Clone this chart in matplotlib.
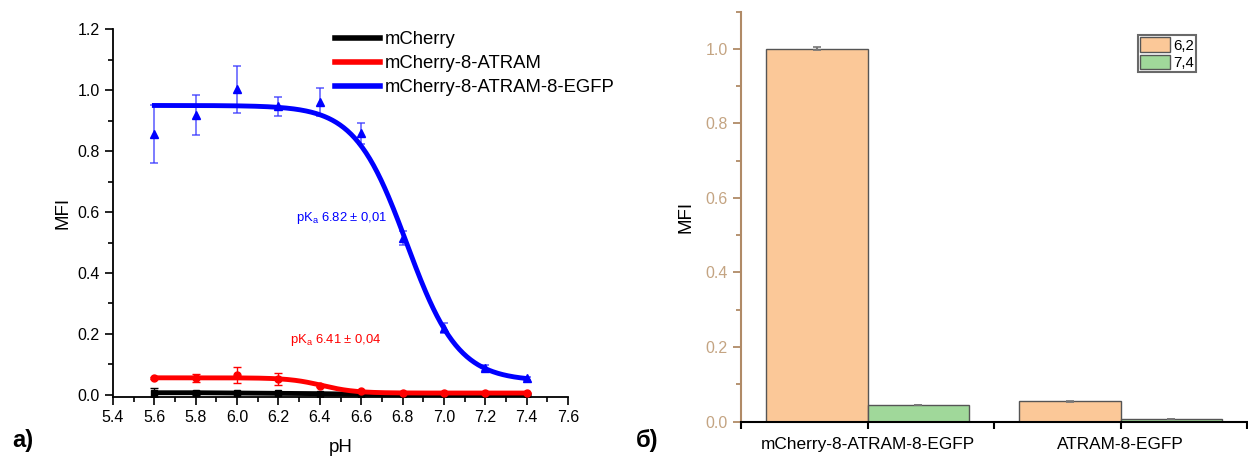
import numpy as np
import matplotlib
matplotlib.use("Agg")
import matplotlib.pyplot as plt
from matplotlib.ticker import MultipleLocator, FixedLocator

plt.rcParams['font.family'] = ['Liberation Sans', 'DejaVu Sans']
plt.rcParams['mathtext.fontset'] = 'custom'
plt.rcParams['mathtext.rm'] = 'Liberation Sans'
plt.rcParams['mathtext.it'] = 'Liberation Sans:italic'

# ---- panel a data ----
ph = [5.6, 5.8, 6.0, 6.2, 6.4, 6.6, 6.8, 7.0, 7.2, 7.4]
mcherry = [0.007, 0.007, 0.006, 0.005, 0.004, 0.002, 0.001, 0.001, 0.001, 0.001]
mcherry_err = [0.015, 0.006, 0.004, 0.002, 0.002, 0.001, 0.001, 0.001, 0.001, 0.001]
atram = [0.055, 0.055, 0.065, 0.052, 0.030, 0.012, 0.007, 0.005, 0.006, 0.006]
atram_err = [0.003, 0.014, 0.025, 0.020, 0.003, 0.002, 0.002, 0.001, 0.002, 0.001]
egfp = [0.857, 0.918, 1.003, 0.948, 0.961, 0.858, 0.515, 0.219, 0.088, 0.055]
egfp_err = [0.095, 0.065, 0.077, 0.031, 0.047, 0.033, 0.022, 0.016, 0.010, 0.005]

# Boltzmann fit parameters (top, bottom, pKa, slope)
egfp_fit = (0.95, 0.045, 6.82, 0.125)
atram_fit = (0.056, 0.006, 6.41, 0.08)

series_labels = ['mCherry', 'mCherry-8-ATRAM', 'mCherry-8-ATRAM-8-EGFP']

# ---- panel b data ----
constructs = ['mCherry-8-ATRAM-8-EGFP', 'ATRAM-8-EGFP']
ph_groups = ['6,2', '7,4']
mfi_62 = [1.0, 0.054]
mfi_62_err = [0.004, 0.002]
mfi_74 = [0.044, 0.007]
mfi_74_err = [0.001, 0.001]


def boltz(x, p):
    top, bot, x0, dx = p
    return bot + (top - bot) / (1 + np.exp((x - x0) / dx))


fig = plt.figure(figsize=(12.48, 4.58), dpi=100)

# ================= panel a =================
ax = fig.add_axes([113/1248, 1-397/458, (568-113)/1248, (397-29.3)/458])
xs = np.linspace(ph[0], ph[-1], 300)

# black
ax.errorbar(ph, mcherry, yerr=mcherry_err, fmt='s', color='black', ms=5,
            capsize=3, elinewidth=1, capthick=1, zorder=3)
ax.plot(ph, mcherry, color='black', lw=3.5, zorder=3, label=series_labels[0])
# red
ax.errorbar(ph, atram, yerr=atram_err, fmt='o', color='red', ms=5,
            capsize=3, elinewidth=1, capthick=1, zorder=4)
ax.plot(xs, boltz(xs, atram_fit), color='red', lw=3.5, zorder=4, label=series_labels[1])
# blue
ax.errorbar(ph, egfp, yerr=egfp_err, fmt='^', color='blue', ms=6,
            capsize=3, elinewidth=1.2, capthick=1.2, zorder=5, ecolor=(0.2, 0.2, 1.0, 0.75))
ax.plot(xs, boltz(xs, egfp_fit), color='blue', lw=3.5, zorder=5, label=series_labels[2])

ax.set_xlim(5.4, 7.6)
ax.set_ylim(-0.007, 1.2)
ax.set_xticks(np.arange(5.4, 7.61, 0.2))
ax.set_xticklabels([f'{v:.1f}' for v in np.arange(5.4, 7.61, 0.2)])
ax.set_yticks(np.arange(0, 1.21, 0.2))
ax.set_yticklabels([f'{v:.1f}' for v in np.arange(0, 1.21, 0.2)])
ax.xaxis.set_minor_locator(MultipleLocator(0.1))
ax.yaxis.set_minor_locator(MultipleLocator(0.1))
for s in ['top', 'right']:
    ax.spines[s].set_visible(False)
for s in ['left', 'bottom']:
    ax.spines[s].set_linewidth(1.3)
ax.tick_params(which='major', direction='out', length=6, width=1.2, labelsize=11.5)
ax.tick_params(which='minor', direction='out', length=3.5, width=1.2)
ax.set_xlabel('pH', fontsize=13.5, labelpad=10)
ax.set_ylabel('MFI', fontsize=13.5, labelpad=4)

ax.text(6.285, 0.579, r'pK$_{\mathregular{a}}$ 6.82 ± 0,01', color='blue', fontsize=9.4, va='center')
ax.text(6.256, 0.181, r'pK$_{\mathregular{a}}$ 6.41 ± 0,04', color='red', fontsize=9.4, va='center')

leg = ax.legend(loc='upper left', bbox_to_anchor=(335/1248, 1-31/458), bbox_transform=fig.transFigure,
                frameon=False, fontsize=13.3, handlelength=2.45, handletextpad=0.25,
                borderpad=0, borderaxespad=0, labelspacing=0.38)
for h in leg.get_lines():
    h.set_linewidth(4)

fig.text(12/1248, 1-440/458, 'a)', fontsize=17, fontweight='bold', va='center')

# ================= panel b =================
bx = fig.add_axes([741/1248, 1-421.5/458, (1247-741)/1248, (421.5-11.7)/458])
pos = np.arange(1, len(constructs) + 1)
w = 0.4
bx.bar(pos - w/2, mfi_62, width=w, color='#fbc898', edgecolor='#555555', linewidth=1,
       yerr=mfi_62_err, ecolor='#777777', capsize=3, error_kw=dict(elinewidth=1.5, capthick=1.2),
       label=ph_groups[0], zorder=2)
bx.bar(pos + w/2, mfi_74, width=w, color='#a0d89a', edgecolor='#555555', linewidth=1,
       yerr=mfi_74_err, ecolor='#777777', capsize=3, error_kw=dict(elinewidth=1.5, capthick=1.2),
       label=ph_groups[1], zorder=2)
bx.set_xlim(0.5, 2.5)
bx.set_ylim(0, 1.1)
bx.set_xticks(pos)
bx.set_xticklabels(constructs, fontsize=12.4)
bx.xaxis.set_minor_locator(FixedLocator([0.5, 1.5, 2.5]))
bx.set_yticks(np.arange(0, 1.01, 0.2))
bx.set_yticklabels([f'{v:.1f}' for v in np.arange(0, 1.01, 0.2)])
bx.yaxis.set_minor_locator(MultipleLocator(0.1))
for s in ['top', 'right']:
    bx.spines[s].set_visible(False)
brown = '#b08a66'
bx.spines['left'].set_color(brown)
bx.spines['left'].set_linewidth(1.5)
bx.spines['bottom'].set_linewidth(1.5)
bx.spines['bottom'].set_zorder(3)
bx.tick_params(axis='y', which='major', direction='out', length=6, width=1.3, colors=brown,
               labelcolor='#c4a482', labelsize=11.5)
bx.tick_params(axis='y', which='minor', direction='out', length=3.5, width=1.3, colors=brown)
bx.tick_params(axis='x', which='both', direction='out', length=5, width=1.5, pad=6)
bx.set_ylabel('MFI', fontsize=13.5, labelpad=8)

bleg = bx.legend(loc='upper left', bbox_to_anchor=(1138/1248, 1-35/458), bbox_transform=fig.transFigure,
                 fontsize=10.8, frameon=True, fancybox=False, edgecolor='#444444',
                 handlelength=2.0, handleheight=1.1, handletextpad=0.2, borderpad=0.15,
                 borderaxespad=0, labelspacing=0.15)
bleg.get_frame().set_linewidth(1.5)

fig.text(636/1248, 1-440/458, 'б)', fontsize=17, fontweight='bold', va='center')

fig.savefig('out.png', dpi=100)
